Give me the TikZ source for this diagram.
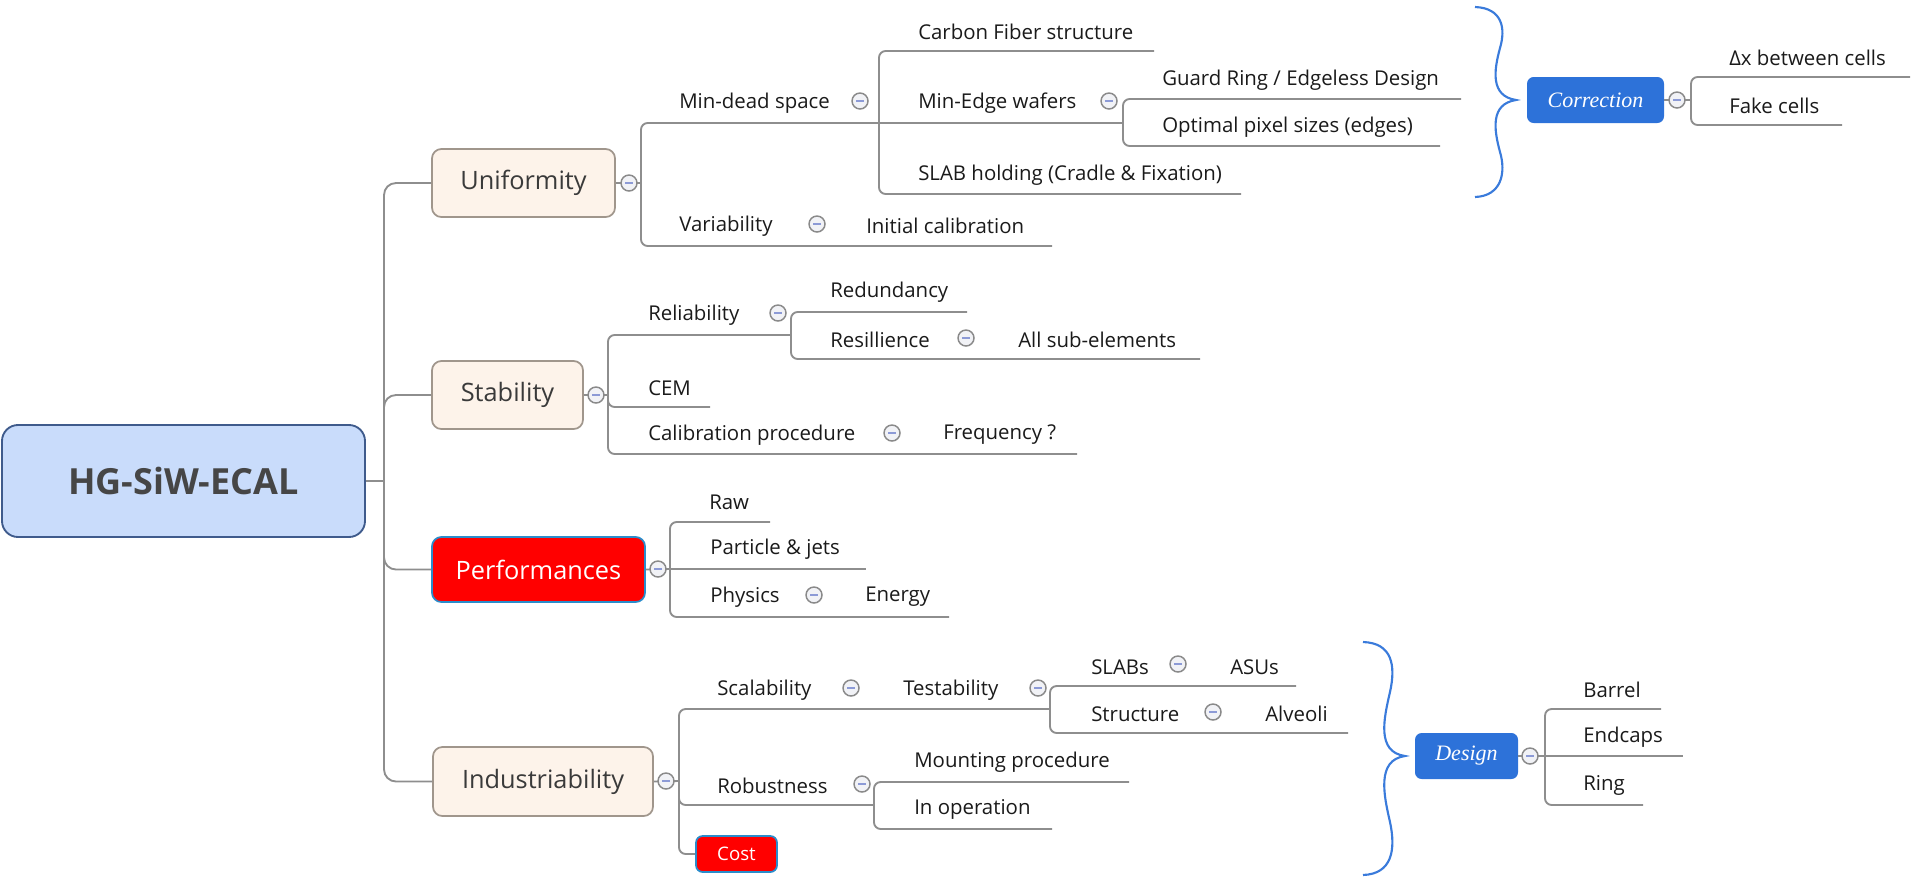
\documentclass[tikz,border=0pt]{standalone}
\usepackage{fontspec}
\setmainfont{Open Sans}
\newfontfamily\serifit{Liberation Serif}
\definecolor{lineg}{HTML}{8E8E8E}
\definecolor{textc}{HTML}{1A1A1A}
\definecolor{collb}{HTML}{8A8A8A}
\definecolor{collf}{HTML}{F1F2F6}
\definecolor{minusc}{HTML}{8C9AD6}
\definecolor{mainb}{HTML}{A0968C}
\definecolor{mainf}{HTML}{FDF3EA}
\definecolor{maint}{HTML}{3A3A3A}
\definecolor{rootb}{HTML}{3F5B8C}
\definecolor{rootf}{HTML}{C9DCFB}
\definecolor{roott}{HTML}{464646}
\definecolor{redb}{HTML}{2A8CCB}
\definecolor{redf}{HTML}{FF0000}
\definecolor{blueb}{HTML}{2D72D9}
\definecolor{bracec}{HTML}{3A7BDB}
\begin{document}
\begin{tikzpicture}[x=0.75pt,y=-0.75pt,
 conn/.style={draw=lineg,line width=1.4pt,rounded corners=5pt},
 trunk/.style={draw=lineg,line width=1.4pt,rounded corners=9pt},
 lbl/.style={anchor=west,inner sep=0pt,font=\fontsize{15.3}{18}\selectfont,text=textc},
 coll/.style={circle,draw=collb,fill=collf,line width=1.1pt,minimum size=12pt,inner sep=0pt,
   path picture={\draw[minusc,line width=1.1pt] ([xshift=-2.8pt]path picture bounding box.center)--([xshift=2.8pt]path picture bounding box.center);}},
 mainbox/.style={draw=mainb,fill=mainf,line width=1.3pt,rounded corners=7pt,inner sep=0pt,font=\fontsize{19}{22}\selectfont,text=maint},
 redbox/.style={draw=redb,fill=redf,line width=1.3pt,rounded corners=5pt,inner sep=0pt,text=white},
 bluebox/.style={fill=blueb,rounded corners=5pt,inner sep=0pt,text=white,font=\fontsize{16.5}{19}\serifit\itshape},
 bracepath/.style={draw=bracec,line width=1.6pt}]
\useasboundingbox (0,0) rectangle (1911,876);

% ---------- boxes ----------
\node[draw=rootb,fill=rootf,line width=1.4pt,rounded corners=12pt,inner sep=0pt,
  minimum width=272.25pt,minimum height=84pt,font=\fontsize{27}{32}\selectfont\bfseries,text=roott] (root) at (183.5,481) {HG-SiW-ECAL};
\node[mainbox,minimum width=137.25pt,minimum height=51pt] (unif) at (523.5,183) {Uniformity};
\node[mainbox,minimum width=113.25pt,minimum height=51pt] (stab) at (507.5,395) {Stability};
\node[redbox,rounded corners=7pt,minimum width=159.75pt,minimum height=48.75pt,font=\fontsize{19}{22}\selectfont] (perf) at (538.5,569.5) {Performances};
\node[mainbox,minimum width=165pt,minimum height=51.75pt] (ind) at (543,781.5) {Industriability};
\node[redbox,minimum width=60.75pt,minimum height=27pt,font=\fontsize{14}{16}\selectfont] (cost) at (736.5,854) {Cost};
\node[bluebox,minimum width=102.75pt,minimum height=34.5pt] (corr) at (1595.5,100) {Correction};
\node[bluebox,minimum width=77.25pt,minimum height=34.5pt] (design) at (1466.5,756) {Design};

% ---------- labels ----------
\node[lbl] (mds) at (679,103) {Min-dead space};
\node[lbl] (cfs) at (918,32) {Carbon Fiber structure};
\node[lbl] (mew) at (918,103) {Min-Edge wafers};
\node[lbl] (grd) at (1162,80) {Guard Ring / Edgeless Design};
\node[lbl] (ops) at (1162,127) {Optimal pixel sizes (edges)};
\node[lbl] (slh) at (918,175) {SLAB holding (Cradle \& Fixation)};
\node[lbl] (var) at (679,226) {Variability};
\node[lbl] (ica) at (866,226) {Initial calibration};
\node[lbl] (rel) at (648,315) {Reliability};
\node[lbl] (red) at (830,292) {Redundancy};
\node[lbl] (res) at (830,340) {Resillience};
\node[lbl] (ase) at (1018,340) {All sub-elements};
\node[lbl] (cem) at (648,388) {CEM};
\node[lbl] (cal) at (648,435) {Calibration procedure};
\node[lbl] (frq) at (943,435) {Frequency ?};
\node[lbl] (raw) at (709,502) {Raw};
\node[lbl] (pjs) at (710,549) {Particle \& jets};
\node[lbl] (phy) at (710,597) {Physics};
\node[lbl] (ene) at (865,597) {Energy};
\node[lbl] (sca) at (717,690) {Scalability};
\node[lbl] (tes) at (903,690) {Testability};
\node[lbl] (slb) at (1091,667) {SLABs};
\node[lbl] (asu) at (1230,667) {ASUs};
\node[lbl] (str) at (1091,714) {Structure};
\node[lbl] (alv) at (1265,714) {Alveoli};
\node[lbl] (mnt) at (914,762) {Mounting procedure};
\node[lbl] (rob) at (717,786) {Robustness};
\node[lbl] (inop) at (914,809) {In operation};
\node[lbl] (bar) at (1583,690) {Barrel};
\node[lbl] (end) at (1583,737) {Endcaps};
\node[lbl] (rng) at (1583,785) {Ring};
\node[lbl] (dxc) at (1729,58) {Δx between cells};
\node[lbl] (fkc) at (1729,106) {Fake cells};

% ---------- junctions and line ends ----------
\coordinate (jR) at (384,481);
\coordinate (jU) at (641,183);
\coordinate (jMD) at (879,123);
\coordinate (jME) at (1123,123);
\coordinate (eCF) at (1154,51);
\coordinate (eSH) at (1241,194);
\coordinate (eGR) at (1461,99);
\coordinate (eOP) at (1440,146);
\coordinate (eVa) at (1052,246);
\coordinate (jS) at (608,395);
\coordinate (jRel) at (791,335);
\coordinate (eRed) at (967,312);
\coordinate (eRes) at (1200,359);
\coordinate (eCEM) at (710,407);
\coordinate (eCal) at (1077,454);
\coordinate (jP) at (670,569);
\coordinate (eRaw) at (770,522);
\coordinate (ePJ) at (866,569);
\coordinate (ePh) at (949,617);
\coordinate (jI) at (679,781);
\coordinate (jTe) at (1050,709);
\coordinate (eSL) at (1296,686);
\coordinate (eSt) at (1348,733);
\coordinate (jRo) at (874,805);
\coordinate (eMo) at (1129,782);
\coordinate (eIn) at (1052,829);
\coordinate (jD) at (1545,756);
\coordinate (eBa) at (1661,709);
\coordinate (eEn) at (1683,756);
\coordinate (eRi) at (1643,805);
\coordinate (jC) at (1691,100);
\coordinate (eDx) at (1910,77);
\coordinate (eFC) at (1842,125);

% ---------- connectors ----------
\draw[conn] (root.east) -- (jR);
\draw[trunk] (jR) |- (unif.west);
\draw[trunk] (jR) |- (stab.west);
\draw[trunk] (jR) |- (perf.west);
\draw[trunk] (jR) |- (ind.west);

\draw[conn] (unif.east) -- (jU);
\draw[conn] (jU) |- (jMD);
\draw[conn] (jMD) -- (jME);
\draw[conn] (jMD) |- (eCF);
\draw[conn] (jMD) |- (eSH);
\draw[conn] (jME) |- (eGR);
\draw[conn] (jME) |- (eOP);
\draw[conn] (jU) |- (eVa);

\draw[conn] (stab.east) -- (jS);
\draw[conn] (jS) |- (jRel);
\draw[conn] (jRel) |- (eRed);
\draw[conn] (jRel) |- (eRes);
\draw[conn] (jS) |- (eCEM);
\draw[conn] (jS) |- (eCal);

\draw[conn] (perf.east) -- (jP);
\draw[conn] (jP) |- (eRaw);
\draw[conn] (jP) -- (ePJ);
\draw[conn] (jP) |- (ePh);

\draw[conn] (ind.east) -- (jI);
\draw[conn] (jI) |- (jTe);
\draw[conn] (jTe) |- (eSL);
\draw[conn] (jTe) |- (eSt);
\draw[conn] (jI) |- (jRo);
\draw[conn] (jRo) |- (eMo);
\draw[conn] (jRo) |- (eIn);
\draw[conn] (jI) |- (cost.west);

\draw[conn] (design.east) -- (jD);
\draw[conn] (jD) |- (eBa);
\draw[conn] (jD) -- (eEn);
\draw[conn] (jD) |- (eRi);

\draw[conn] (corr.east) -- (jC);
\draw[conn] (jC) |- (eDx);
\draw[conn] (jC) |- (eFC);

% ---------- collapse markers ----------
\node[coll] (cU) at (629,183) {};
\node[coll] (cS) at (596,395) {};
\node[coll] (cP) at (658,569) {};
\node[coll] (cI) at (666,781) {};
\node[coll] (cMD) at (860,101) {};
\node[coll] (cME) at (1109,101) {};
\node[coll] (cVa) at (817,224) {};
\node[coll] (cRel) at (778,313) {};
\node[coll] (cRes) at (966,338) {};
\node[coll] (cCal) at (892,433) {};
\node[coll] (cPh) at (814,595) {};
\node[coll] (cSc) at (851,688) {};
\node[coll] (cTe) at (1038,688) {};
\node[coll] (cSL) at (1178,664) {};
\node[coll] (cSt) at (1213,712) {};
\node[coll] (cRo) at (862,784) {};
\node[coll] (cD) at (1530,756) {};
\node[coll] (cC) at (1677,100) {};

% ---------- braces ----------
\draw[bracepath] (1475,7) .. controls (1502,8) and (1506,28) .. (1500,48)
  .. controls (1494,70) and (1490,96) .. (1516,100)
  .. controls (1490,104) and (1494,130) .. (1500,152)
  .. controls (1506,172) and (1502,196) .. (1475,197);
\draw[bracepath] (1363,642) .. controls (1392,643) and (1396,665) .. (1390,692)
  .. controls (1384,718) and (1376,752) .. (1405,756)
  .. controls (1376,760) and (1384,796) .. (1390,822)
  .. controls (1396,850) and (1392,874) .. (1363,875);
\end{tikzpicture}
\end{document}
